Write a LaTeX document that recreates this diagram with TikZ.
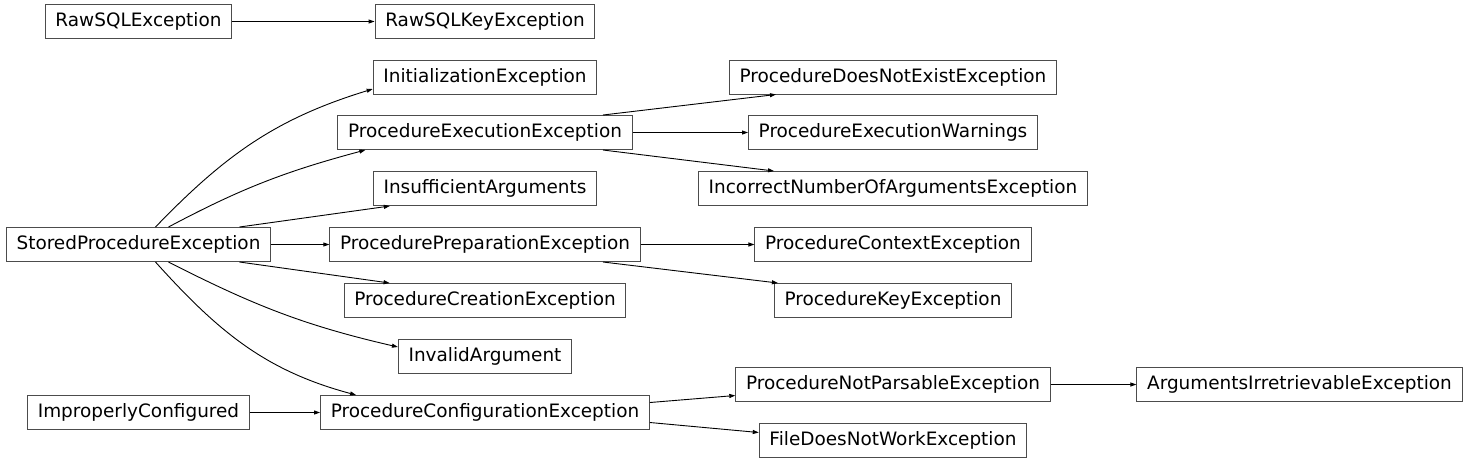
\documentclass[tikz,border=0pt]{standalone}
\usepackage{fontspec}
\setmainfont{DejaVu Sans}
\usetikzlibrary{arrows.meta,calc}
\begin{document}
\begin{tikzpicture}[x=0.5pt,y=0.5pt,
  cls/.style={draw=black!70,line width=0.5pt,rectangle,minimum height=17pt,inner xsep=5.1pt,inner ysep=0pt,font=\fontsize{9.22}{11}\selectfont},
  inh/.style={-{Triangle[length=3pt,width=2pt]},line width=0.45pt}]
  \useasboundingbox (0,0) rectangle (1469,-463);
  \node[cls] (rawsql) at (138.5,-21.5) {RawSQLException};
  \node[cls] (stored) at (138.5,-244.5) {StoredProcedureException};
  \node[cls] (improper) at (138.5,-412.5) {ImproperlyConfigured};
  \node[cls] (rawsqlkey) at (485,-21.5) {RawSQLKeyException};
  \node[cls] (init) at (485,-77) {InitializationException};
  \node[cls] (exec) at (485,-132.5) {ProcedureExecutionException};
  \node[cls] (insuff) at (485,-188.5) {InsufficientArguments};
  \node[cls] (prep) at (485,-244.5) {ProcedurePreparationException};
  \node[cls] (creation) at (485,-300.5) {ProcedureCreationException};
  \node[cls] (invalid) at (485,-356.5) {InvalidArgument};
  \node[cls] (config) at (485,-412.5) {ProcedureConfigurationException};
  \node[cls] (notexist) at (893,-77) {ProcedureDoesNotExistException};
  \node[cls] (warnings) at (893,-132.5) {ProcedureExecutionWarnings};
  \node[cls] (incorrect) at (893,-188.5) {IncorrectNumberOfArgumentsException};
  \node[cls] (context) at (893,-244.5) {ProcedureContextException};
  \node[cls] (keyexc) at (893,-300.5) {ProcedureKeyException};
  \node[cls] (notparsable) at (893,-384.5) {ProcedureNotParsableException};
  \node[cls] (filenot) at (893,-440.5) {FileDoesNotWorkException};
  \node[cls] (irretrievable) at (1299.5,-384.5) {ArgumentsIrretrievableException};
  \foreach \a/\b in {rawsql/rawsqlkey,stored/prep,improper/config,exec/warnings,prep/context,notparsable/irretrievable}{\draw[inh] (\a)--(\b);}
  \draw[inh] ($(stored.north)+(17,0)$) to[out=46,in=197] ($(init.west)+(0,-12)$);
  \draw[inh] ($(stored.north)+(30,0)$) to[out=28,in=195] ($(exec.south west)+(28,0)$);
  \draw[inh] ($(stored.north)+(101,0)$) -- ($(insuff.south west)+(17,0)$);
  \draw[inh] ($(stored.south)+(101,0)$) -- ($(creation.north west)+(46,0)$);
  \draw[inh] ($(stored.south)+(30,0)$) to[out=-27,in=167] ($(invalid.west)+(0,9.5)$);
  \draw[inh] ($(stored.south)+(17,0)$) to[out=-48,in=165] ($(config.north west)+(36,0)$);
  \draw[inh] ($(exec.north)+(118,0)$) -- ($(notexist.south west)+(47,0)$);
  \draw[inh] ($(exec.south)+(118,0)$) -- ($(incorrect.north west)+(76,0)$);
  \draw[inh] ($(prep.south)+(118,0)$) -- ($(keyexc.north west)+(4,0)$);
  \draw[inh] ($(config.east)+(0,10)$) -- ($(notparsable.west)+(0,-11)$);
  \draw[inh] ($(config.east)+(0,-10)$) -- ($(filenot.west)+(0,8)$);
\end{tikzpicture}
\end{document}
